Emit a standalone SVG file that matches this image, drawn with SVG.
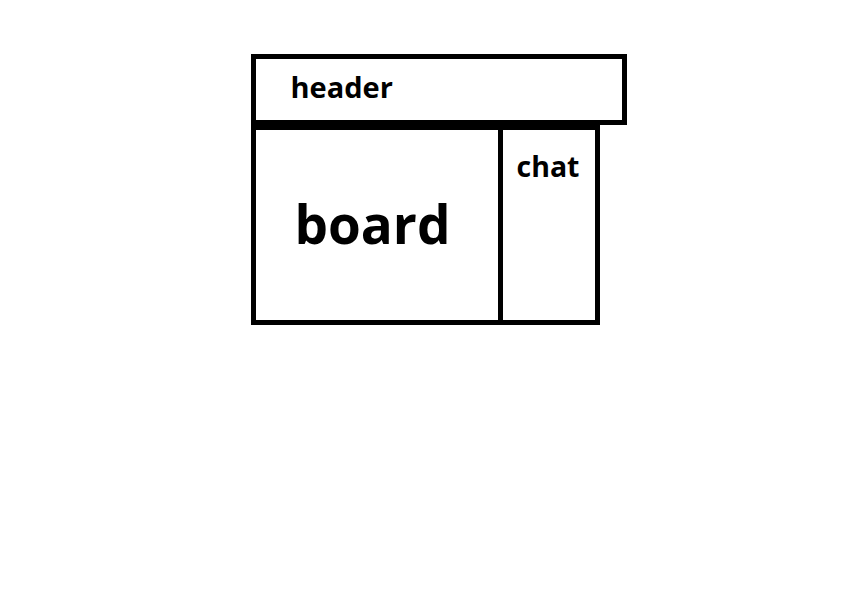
<svg xmlns="http://www.w3.org/2000/svg" width="844" height="604" viewBox="0 0 844 604">
<style>
.box{fill:none;stroke:#000;stroke-width:5}
.lbl{font-family:"Open Sans","Noto Sans",sans-serif;font-weight:bold;fill:#000}
</style>
<rect width="844" height="604" fill="#fff"/>
<g id="header">
<rect class="box" x="253.5" y="56.5" width="371" height="66"/>
<text class="lbl" x="290.5" y="97.5" font-size="29">header</text>
</g>
<g id="board">
<rect class="box" x="253.5" y="127.5" width="247" height="195"/>
<text class="lbl" x="294.5" y="243.5" font-size="53">board</text>
</g>
<g id="chat">
<rect class="box" x="500.5" y="127.5" width="97" height="195"/>
<text class="lbl" x="516.5" y="176.5" font-size="28.5">chat</text>
</g>
<g id="connectors"></g>
</svg>
